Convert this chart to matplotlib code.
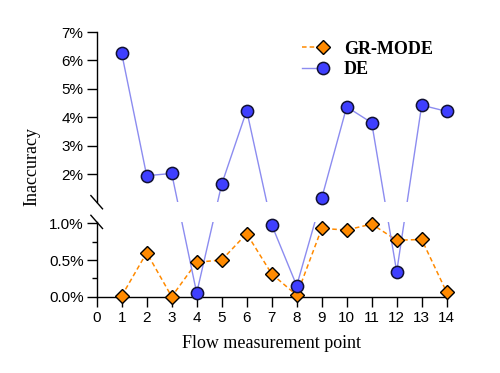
import numpy as np
import matplotlib
matplotlib.use("Agg")
import matplotlib.pyplot as plt
from matplotlib.patches import Rectangle
from matplotlib.legend_handler import HandlerTuple

# values in percent
points = [1, 2, 3, 4, 5, 6, 7, 8, 9, 10, 11, 12, 13, 14]
gr_mode = [0.01, 0.60, 0.00, 0.47, 0.50, 0.86, 0.31, 0.02, 0.93, 0.91, 0.99, 0.77, 0.78, 0.06]
de = [6.25, 1.95, 2.03, 0.05, 1.65, 4.24, 0.98, 0.15, 1.16, 4.37, 3.81, 0.34, 4.43, 4.21]

ytick_vals = [0, 0.5, 1.0, 2, 3, 4, 5, 6, 7]
ytick_labels = ["0.0%", "0.5%", "1.0%", "2%", "3%", "4%", "5%", "6%", "7%"]
yminor_vals = [0.25, 0.75]

# broken y axis: lower part 0..1.02 stretched, upper part 1..7 compressed
K_LO = 73.3
K_HI = 28.45
BREAK = 1.02
TOP0 = 93.9


def forward(v):
    v = np.asarray(v, dtype=float)
    return np.where(v <= BREAK, v * K_LO, TOP0 + (v - 1) * K_HI)


def inverse(f):
    f = np.asarray(f, dtype=float)
    lo = f / K_LO
    hi = 1 + (f - TOP0) / K_HI
    return np.where(f <= BREAK * K_LO, lo,
                    np.where(f >= TOP0 + (BREAK - 1) * K_HI, hi, BREAK))


fig = plt.figure(figsize=(5, 3.73), dpi=100)
ax = fig.add_axes([0.1934, 0.2046, 0.70, 0.7096])
ax.set_yscale("function", functions=(forward, inverse))
ax.set_xlim(0, 14)
ax.set_ylim(0, 7)

orange = "#ff8a00"
blue = "#3f3fff"

l1, = ax.plot(points, gr_mode, color=orange, lw=1.1, ls=(0, (3, 2)), zorder=2, clip_on=False)
l2, = ax.plot(points, de, color="#8c8cf0", lw=1.0, zorder=2, clip_on=False)

# hide the lines in the gap between the two parts
fmax = float(forward(7))
gap_lo = BREAK * K_LO / fmax
gap_hi = (TOP0 + (BREAK - 1) * K_HI) / fmax
ax.add_patch(Rectangle((0, gap_lo), 1, gap_hi - gap_lo, transform=ax.transAxes,
                       facecolor="white", edgecolor="none", zorder=2.5))

m1, = ax.plot(points, gr_mode, ls="none", marker="D", ms=7, mfc=orange, mec="black",
              mew=1.0, zorder=3, clip_on=False)
m2, = ax.plot(points, de, ls="none", marker="o", ms=8.8, mfc=blue, mec="#111133",
              mew=1.1, zorder=3, clip_on=False)

# spines
for s in ["top", "right", "left"]:
    ax.spines[s].set_visible(False)
ax.spines["bottom"].set_linewidth(1.0)
ax.plot([0, 0], [0, gap_lo], transform=ax.transAxes, color="black", lw=1.0, clip_on=False, zorder=4)
ax.plot([0, 0], [gap_hi, 1], transform=ax.transAxes, color="black", lw=1.0, clip_on=False, zorder=4)
dx, dy = 0.0166, 0.025
for yc in [gap_lo, gap_hi]:
    ax.plot([-dx, dx], [yc + dy, yc - dy], transform=ax.transAxes, color="black",
            lw=1.0, clip_on=False, zorder=4)

ax.set_yticks(ytick_vals)
ax.set_yticklabels(ytick_labels)
ax.set_yticks(yminor_vals, minor=True)
ax.set_xticks(range(0, 15))
ax.tick_params(axis="both", which="major", direction="out", length=7, width=1.0,
               labelsize=11, pad=2.5)
ax.tick_params(axis="x", which="major", pad=3.5)
ax.tick_params(axis="y", which="minor", direction="out", length=3.5, width=1.0)
ax.tick_params(axis="x", which="minor", bottom=False)
for lab in ax.get_xticklabels() + ax.get_yticklabels():
    lab.set_family("Liberation Sans")

ax.set_xlabel("Flow measurement point", family="Liberation Serif", fontsize=13, labelpad=7)
ax.set_ylabel("Inaccuracy", family="Liberation Serif", fontsize=13)
ax.yaxis.set_label_coords(-0.16, 0.49)

fig.legend([(l1, m1), (l2, m2)], ["GR-MODE", "DE"],
           handler_map={tuple: HandlerTuple(ndivide=None)},
           loc="upper left", bbox_to_anchor=(0.585, 0.915), frameon=False,
           borderpad=0, handlelength=1.55, handletextpad=0.8, labelspacing=0.2,
           prop={"family": "Liberation Serif", "weight": "bold", "size": 13})

fig.savefig("out.png", dpi=100)
